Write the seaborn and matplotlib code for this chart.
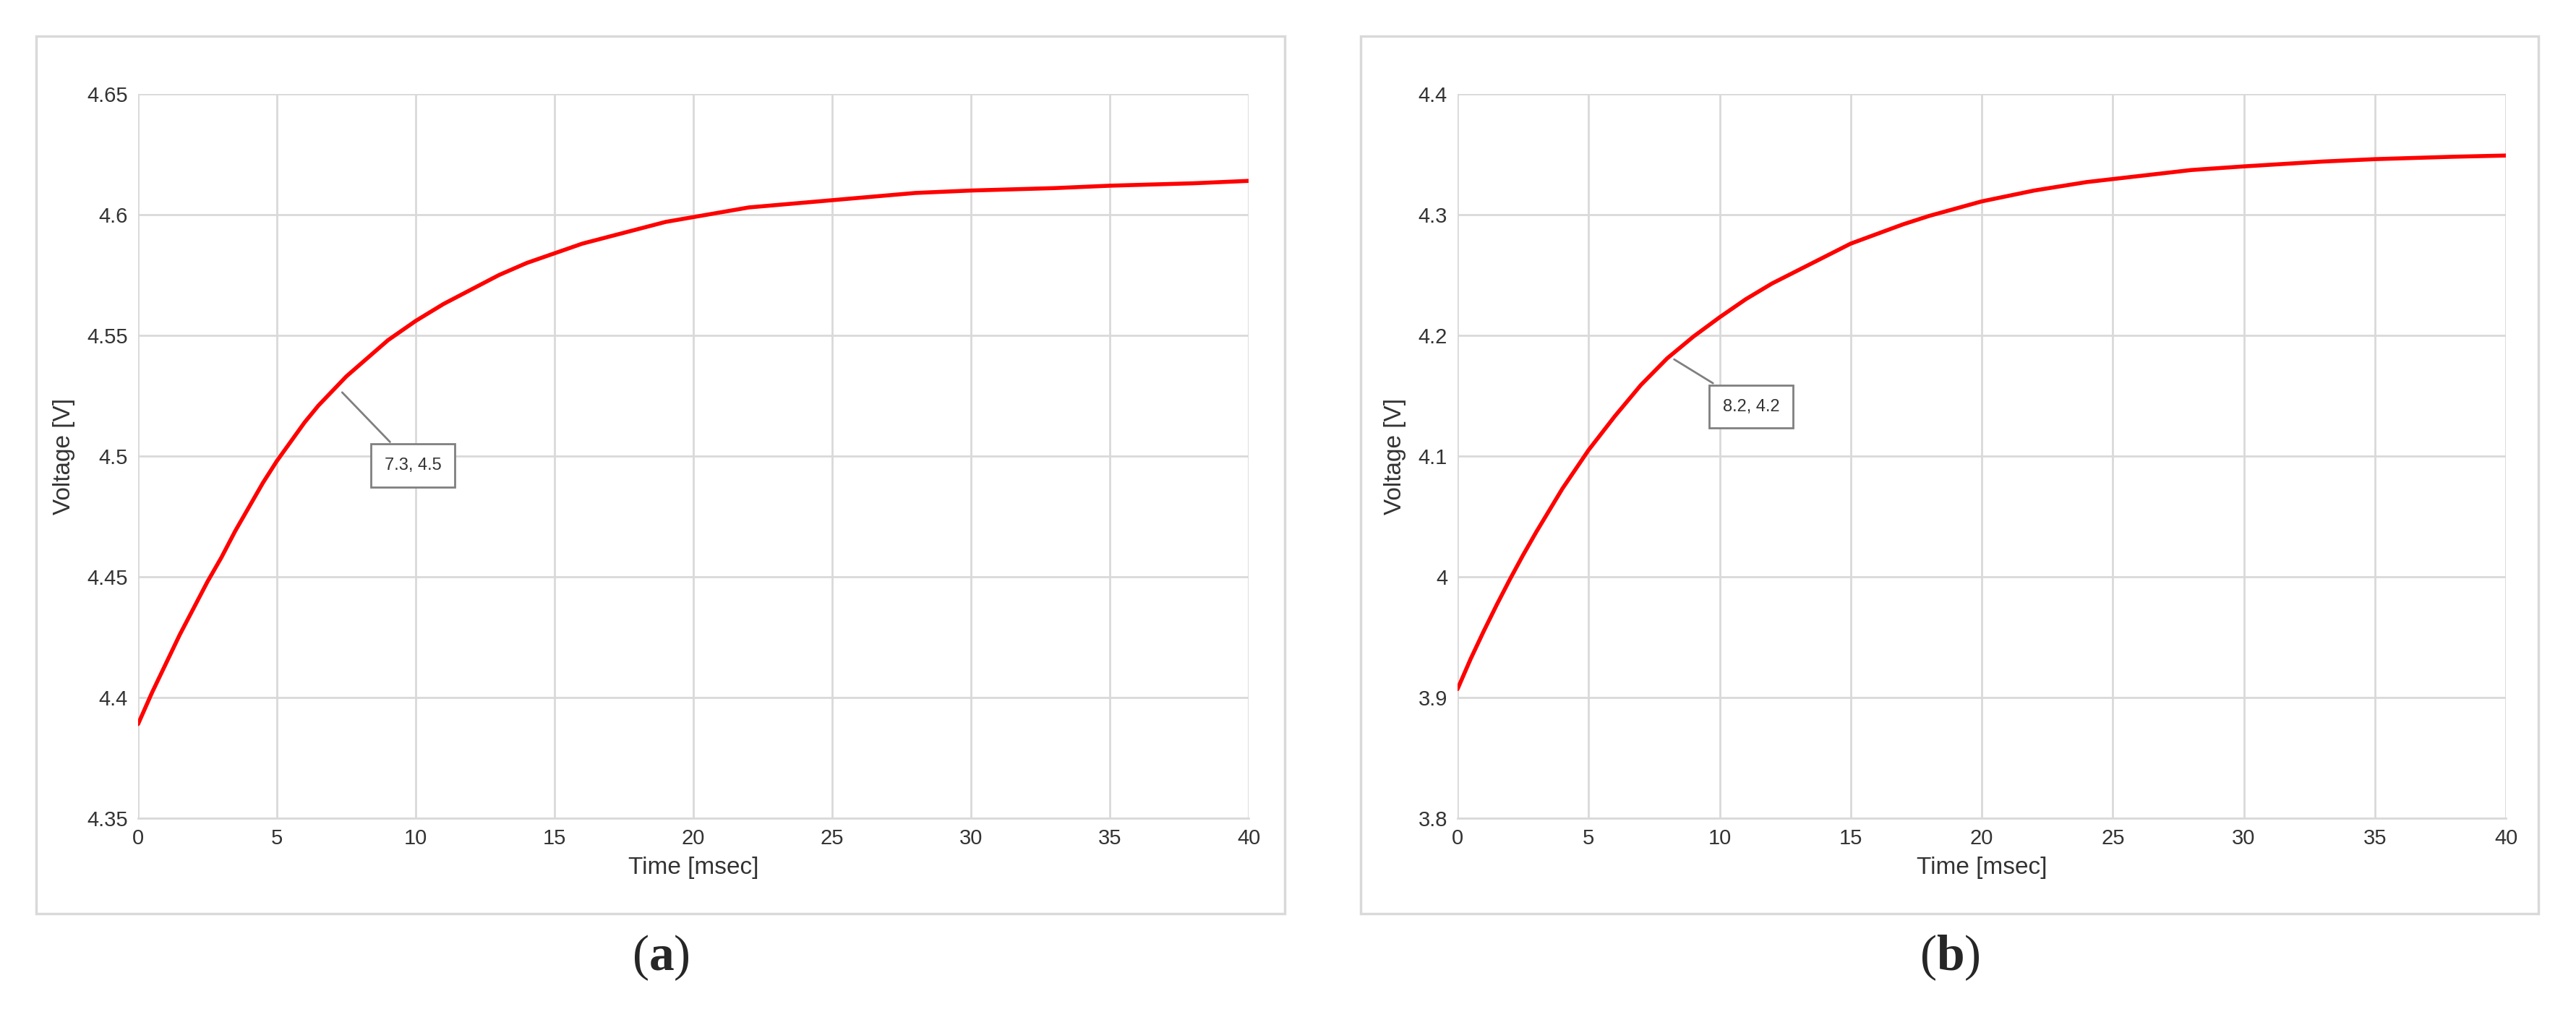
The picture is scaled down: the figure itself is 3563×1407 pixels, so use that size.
import matplotlib
matplotlib.use("Agg")
import matplotlib.pyplot as plt
import seaborn as sns
import pandas as pd
from matplotlib.patches import Rectangle

sns.set_theme(style="whitegrid")
plt.rcParams['font.family'] = ['Liberation Sans', 'DejaVu Sans']
plt.rcParams['mathtext.fontset'] = 'custom'
plt.rcParams['mathtext.rm'] = 'Liberation Serif'
plt.rcParams['mathtext.bf'] = 'Liberation Serif:bold'

time_a = [0,0.5,1,1.5,2,2.5,3,3.5,4,4.5,5,5.5,6,6.5,7,7.5,8,9,10,11,12,13,14,15,16,17,18,19,20,22,24,26,28,30,33,35,38,40]
volt_a = [4.389,4.402,4.414,4.426,4.437,4.448,4.458,4.469,4.479,4.489,4.498,4.506,4.514,4.521,4.527,4.533,4.538,4.548,4.556,4.563,4.569,4.575,4.580,4.584,4.588,4.591,4.594,4.597,4.599,4.603,4.605,4.607,4.609,4.610,4.611,4.612,4.613,4.614]
time_b = [0,0.5,1,1.5,2,2.5,3,3.5,4,4.5,5,5.5,6,6.5,7,7.5,8,9,10,11,12,13,14,15,16,17,18,19,20,22,24,26,28,30,33,35,38,40]
volt_b = [3.907,3.932,3.955,3.977,3.998,4.018,4.037,4.055,4.073,4.089,4.105,4.119,4.133,4.146,4.159,4.170,4.181,4.199,4.215,4.230,4.243,4.254,4.265,4.276,4.284,4.292,4.299,4.305,4.311,4.320,4.327,4.332,4.337,4.340,4.344,4.346,4.348,4.349]
xticks = [0,5,10,15,20,25,30,35,40]
yticks_a = [4.35,4.4,4.45,4.5,4.55,4.6,4.65]
ytl_a = ["4.35","4.4","4.45","4.5","4.55","4.6","4.65"]
yticks_b = [3.8,3.9,4.0,4.1,4.2,4.3,4.4]
ytl_b = ["3.8","3.9","4","4.1","4.2","4.3","4.4"]
callouts = [("7.3, 4.5", 7.3, 4.527, 9.9, 4.496), ("8.2, 4.2", 8.2, 4.181, 11.2, 4.141)]
panel_labels = ["a", "b"]

W, H = 3563, 1407
fig = plt.figure(figsize=(W/100, H/100), dpi=100)

frames = [(50, 50, 1777, 1264), (1882, 50, 3511, 1264)]
axes_px = [(191, 130, 1727, 1132), (2016, 130, 3466, 1132)]
datasets = [(time_a, volt_a, yticks_a, ytl_a), (time_b, volt_b, yticks_b, ytl_b)]

for i in range(2):
    fx0, fy0, fx1, fy1 = frames[i]
    fig.patches.append(Rectangle((fx0/W, 1-fy1/H), (fx1-fx0)/W, (fy1-fy0)/H,
                                 transform=fig.transFigure, fill=False,
                                 edgecolor="#d9d9d9", linewidth=2.5))
    x0, y0, x1, y1 = axes_px[i]
    ax = fig.add_axes([x0/W, 1-y1/H, (x1-x0)/W, (y1-y0)/H])
    t, v, yt, ytl = datasets[i]
    df = pd.DataFrame({"t": t, "v": v})
    sns.lineplot(data=df, x="t", y="v", ax=ax, color="#ff0000", linewidth=4)
    ax.set_xlim(0, 40)
    ax.set_ylim(yt[0], yt[-1])
    ax.set_xticks(xticks)
    ax.set_xticklabels([str(x) for x in xticks], fontsize=21, color="#333333")
    ax.set_yticks(yt)
    ax.set_yticklabels(ytl, fontsize=21, color="#333333")
    ax.grid(True, color="#d9d9d9", linewidth=2)
    for s in ["top", "right", "left"]:
        ax.spines[s].set_visible(False)
    ax.spines["bottom"].set_color("#d9d9d9")
    ax.spines["bottom"].set_linewidth(2)
    ax.tick_params(axis="both", length=0, pad=10)
    ax.set_xlabel("Time [msec]", fontsize=24, color="#333333", labelpad=8)
    ax.set_ylabel("Voltage [V]", fontsize=24, color="#333333", labelpad=12)
    txt, px, py, tx, ty = callouts[i]
    ax.annotate(txt, xy=(px, py), xytext=(tx, ty), fontsize=17, color="#333333",
                ha="center", va="center",
                bbox=dict(boxstyle="square,pad=0.8", fc="white", ec="#808080", lw=2),
                arrowprops=dict(arrowstyle="-", color="#808080", lw=2))
    cx = (fx0 + fx1) / 2
    fig.text(cx/W, 1-1325/H, "(" + r"$\mathbf{" + panel_labels[i] + "}$" + ")",
             fontsize=50, family="Liberation Serif", ha="center", va="center")

fig.savefig("out.png", dpi=100, facecolor="white")
